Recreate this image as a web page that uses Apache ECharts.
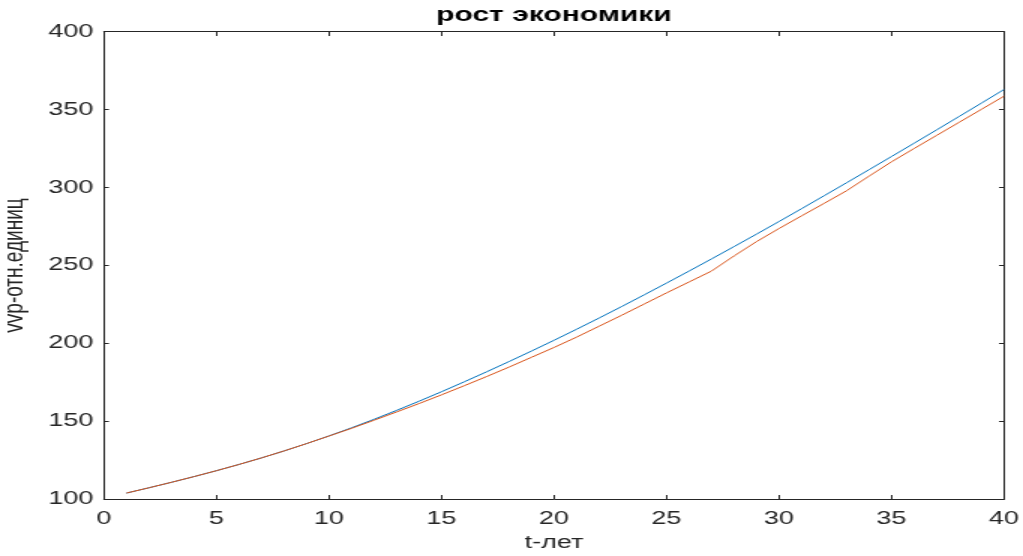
<!DOCTYPE html>
<html>
<head>
<meta charset="utf-8">
<script src="https://cdn.jsdelivr.net/npm/echarts@6/dist/echarts.min.js"></script>
<style>
html,body{margin:0;padding:0;background:#fff;overflow:hidden;}
#chart{width:682px;height:556px;transform:scaleX(1.5);transform-origin:0 0;}
</style>
</head>
<body>
<div id="chart"></div>
<script>
// years t
var years = [1,2,3,4,5,6,7,8,9,10,11,12,13,14,15,16,17,18,19,20,21,22,23,24,25,26,27,28,29,30,31,32,33,34,35,36,37,38,39,40];
// blue curve (smooth)
var seriesBlue = [104.0,107.4,110.9,114.55,118.35,122.35,126.55,131.0,135.7,140.65,145.85,151.3,157.0,162.9,169.0,175.3,181.75,188.35,195.1,202.0,209.05,216.25,223.6,231.1,238.7,246.4,254.2,262.1,270.1,278.2,286.4,294.7,303.05,311.45,319.9,328.4,336.95,345.55,354.2,362.9];
// orange curve
var seriesOrange = [104.0,107.4,110.9,114.55,118.35,122.35,126.55,131.0,135.7,140.6,145.5,150.7,156.0,161.4,167.0,172.8,178.7,184.8,191.1,197.4,204.0,211.0,218.0,225.2,232.4,239.4,246.4,256.1,265.3,273.7,281.8,289.8,297.9,307.3,316.5,325.0,333.4,341.8,350.2,358.6];
var titleText = 'рост экономики';
var xName = 't-лет';
var yName = 'vvp-отн.единиц';

function pairs(xs, ys){ return xs.map(function(x,i){ return [x, ys[i]]; }); }

var axisColor = '#262626';
var font = 'Liberation Sans, Arial, Helvetica, sans-serif';

var chart = echarts.init(document.getElementById('chart'));
chart.setOption({
  animation: false,
  backgroundColor: '#ffffff',
  title: {
    text: titleText,
    left: 369.3,
    top: 5,
    padding: 0,
    textAlign: 'center',
    textStyle: {fontFamily: font, fontSize: 20, fontWeight: 'bold', color: '#000'}
  },
  grid: {left: 69.3, right: 12.7, top: 31.7, bottom: 56.7, containLabel: false, outerBoundsMode: 'none'},
  xAxis: [{
    type: 'value', min: 0, max: 40, interval: 5, position: 'bottom',
    name: xName, nameLocation: 'middle', nameGap: 35,
    nameTextStyle: {fontFamily: font, fontSize: 18, color: axisColor},
    axisLine: {show: true, onZero: false, lineStyle: {color: axisColor, width: 1}},
    axisTick: {show: true, inside: true, length: 4.3, lineStyle: {color: axisColor}},
    axisLabel: {fontFamily: font, fontSize: 18, color: axisColor, margin: 11},
    splitLine: {show: false}
  }, {
    type: 'value', min: 0, max: 40, interval: 5, position: 'top',
    axisLine: {show: true, onZero: false, lineStyle: {color: axisColor, width: 1}},
    axisTick: {show: true, inside: true, length: 4.3, lineStyle: {color: axisColor}},
    axisLabel: {show: false},
    splitLine: {show: false}
  }],
  yAxis: [{
    type: 'value', min: 100, max: 400, interval: 50, position: 'left',
    name: yName, nameLocation: 'middle', nameGap: 50,
    nameTextStyle: {fontFamily: font, fontSize: 19, color: axisColor},
    axisLine: {show: true, onZero: false, lineStyle: {color: axisColor, width: 1}},
    axisTick: {show: true, inside: true, length: 3.3, lineStyle: {color: axisColor}},
    axisLabel: {fontFamily: font, fontSize: 18, color: axisColor, margin: 7},
    splitLine: {show: false}
  }, {
    type: 'value', min: 100, max: 400, interval: 50, position: 'right',
    axisLine: {show: true, onZero: false, lineStyle: {color: axisColor, width: 1}},
    axisTick: {show: true, inside: true, length: 3.3, lineStyle: {color: axisColor}},
    axisLabel: {show: false},
    splitLine: {show: false}
  }],
  series: [{
    name: 'blue', type: 'line', xAxisIndex: 0, yAxisIndex: 0,
    data: pairs(years, seriesBlue), showSymbol: false, symbol: 'none',
    lineStyle: {color: '#0072BD', width: 1}, itemStyle: {color: '#0072BD'}
  }, {
    name: 'orange', type: 'line', xAxisIndex: 0, yAxisIndex: 0,
    data: pairs(years, seriesOrange), showSymbol: false, symbol: 'none',
    lineStyle: {color: '#D95319', width: 1}, itemStyle: {color: '#D95319'}
  }]
});
</script>
</body>
</html>
